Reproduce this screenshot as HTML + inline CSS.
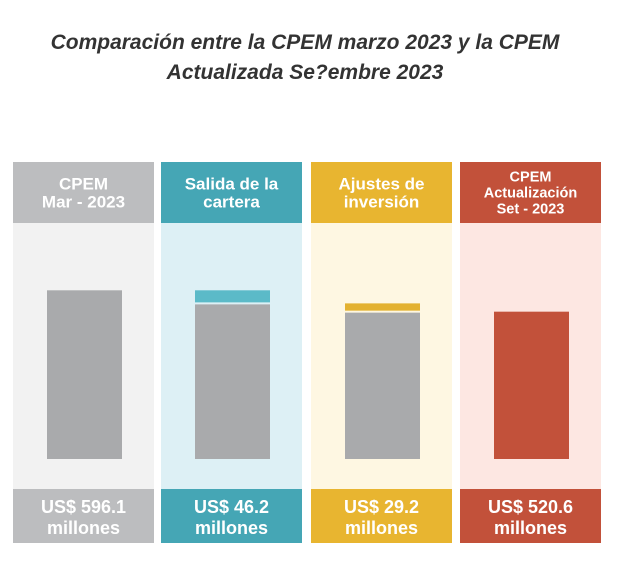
<!DOCTYPE html>
<html><head><meta charset="utf-8">
<style>
body{margin:0;background:#fff;width:620px;height:568px;overflow:hidden;font-family:"Liberation Sans",sans-serif}
</style></head>
<body>
<svg id="chart" width="620" height="568">
<text x="305" y="49" text-anchor="middle" font-size="21" font-weight="bold" font-style="italic" fill="#333">Comparación entre la CPEM marzo 2023 y la CPEM</text>
<text x="305" y="79" text-anchor="middle" font-size="21" font-weight="bold" font-style="italic" fill="#333">Actualizada Se?embre 2023</text>
</svg>
<script>
const categories=[["CPEM","Mar - 2023"],["Salida de la","cartera"],["Ajustes de","inversión"],["CPEM","Actualización","Set - 2023"]];
const values=[596.1,46.2,29.2,520.6];
const valueLabels=["US$ 596.1","US$ 46.2","US$ 29.2","US$ 520.6"];
const headColors=["#bcbdbf","#45a6b5","#e8b530","#c2513a"];
const bgColors=["#f2f2f2","#ddf0f5","#fef7e2","#fde7e2"];
const capColors=[null,"#5bbac8","#e3b130",null];

const svg=document.getElementById('chart');
const NS="http://www.w3.org/2000/svg";
const colX=[13,161,311,460], colW=141;
const baseY=459, scale=0.283;
const y=v=>baseY-v*scale;
function el(tag,attrs){const e=document.createElementNS(NS,tag);for(const k in attrs)e.setAttribute(k,attrs[k]);svg.appendChild(e);return e;}
// compute waterfall
let running=values[0];
const segs=[];
segs.push({base:0,top:values[0],cap:null});
running-=values[1];segs.push({base:0,top:running,cap:[running,running+values[1]]});
running-=values[2];segs.push({base:0,top:running,cap:[running,running+values[2]]});
segs.push({base:0,top:values[3],cap:null});

categories.forEach((cat,i)=>{
  const x=colX[i];
  const bg=el('rect',{x:x,y:223,width:colW,height:266,fill:bgColors[i]});
  
  
  const h=el('rect',{x:x,y:162,width:colW,height:61,fill:headColors[i]});
  
  
  const n=cat.length, fs=n>2?14.5:17, lh=n>2?16:18;
  const startY=192.5-(n-1)*lh/2+fs*0.35;
  cat.forEach((t,j)=>{
    const tx=el('text',{x:x+colW/2,y:startY+j*lh,'text-anchor':'middle','font-size':fs,'font-weight':'bold',fill:'#fff'});
    tx.textContent=t;
    
    
  });
  const f=el('rect',{x:x,y:489,width:colW,height:54,fill:headColors[i]});
  
  
  [valueLabels[i],"millones"].forEach((t,j)=>{
    const tx=el('text',{x:x+colW/2,y:513+j*21,'text-anchor':'middle','font-size':18,'font-weight':'bold',fill:'#fff'});
    tx.textContent=t;
    
    
  });
  const s=segs[i];
  const bx=x+34,bw=75;
  const bar=el('rect',{x:bx,y:y(s.top)+(s.cap?1:0),width:bw,height:y(s.base)-y(s.top)-(s.cap?1:0),fill:i===3?"#c2513a":"#a9aaac"});
  
  
  if(s.cap){
    const c=el('rect',{x:bx,y:y(s.cap[1]),width:bw,height:y(s.cap[0])-y(s.cap[1])-1,fill:capColors[i]});
    
    
  }
});
</script>
</body></html>
